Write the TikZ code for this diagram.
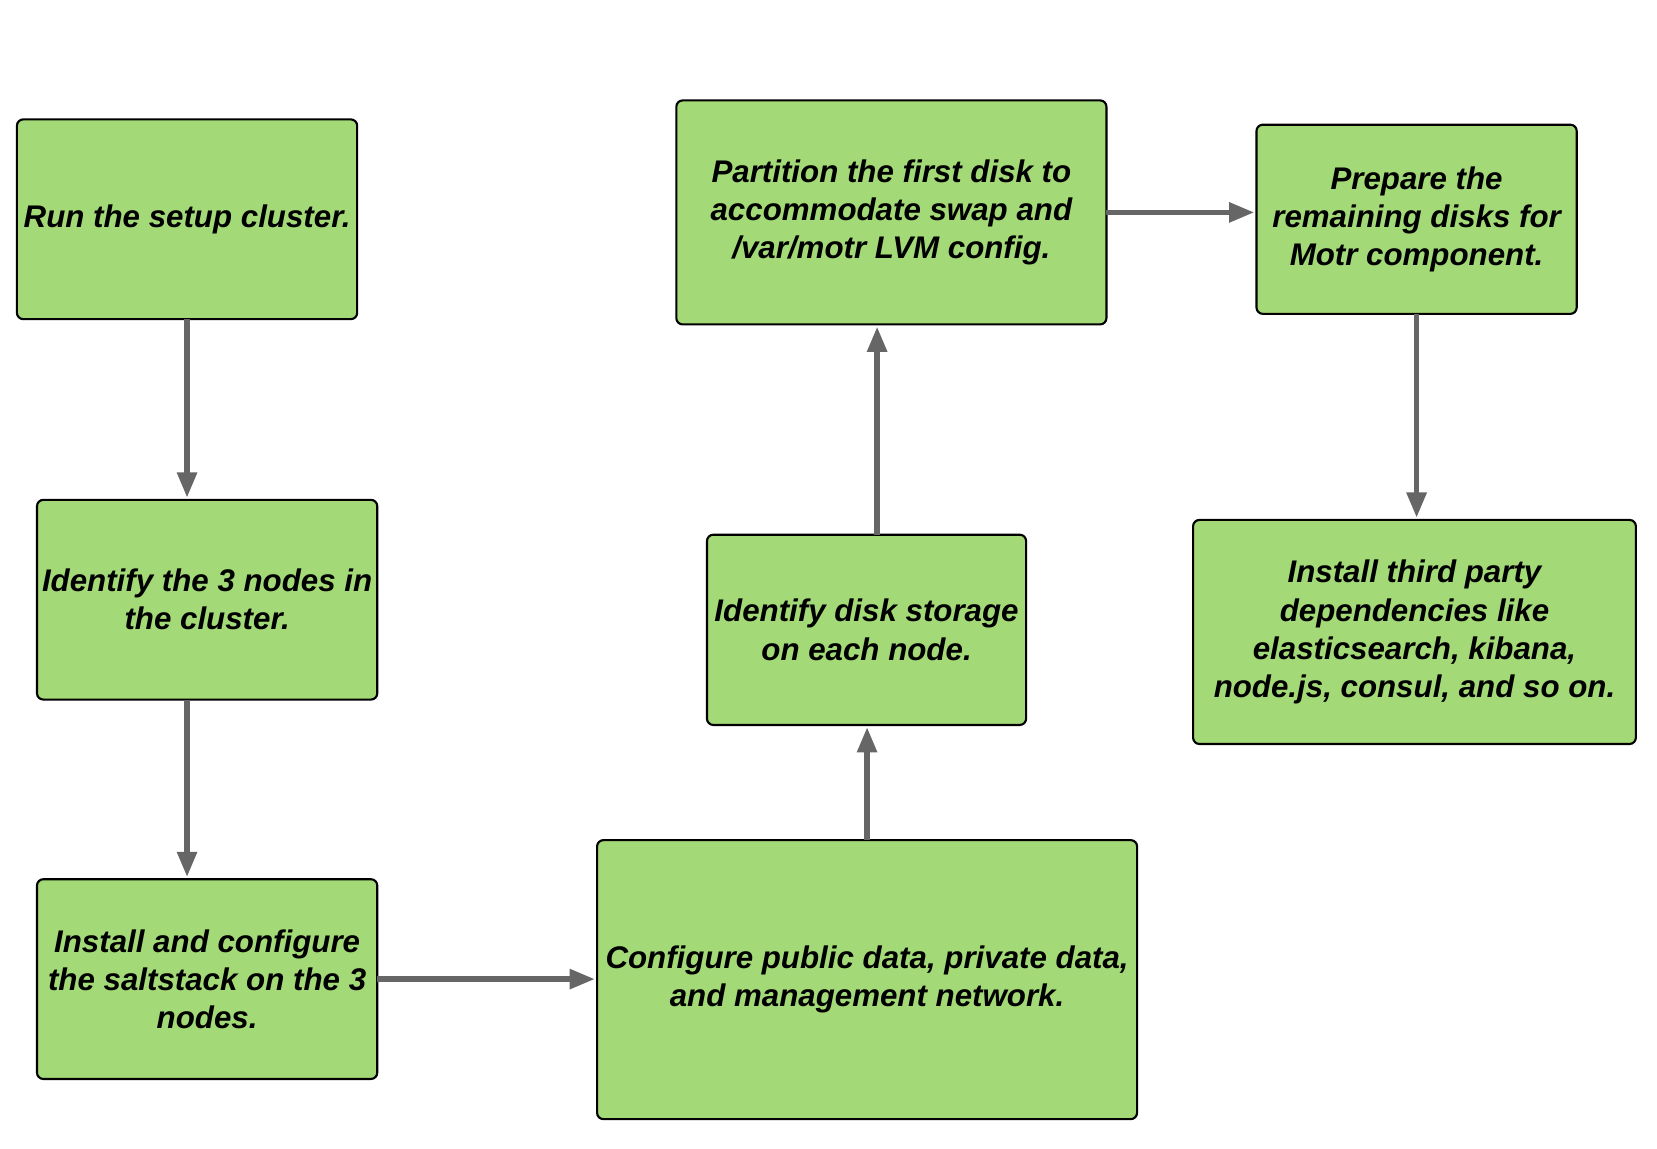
\documentclass[tikz,border=0pt]{standalone}
\usepackage{fontspec}
\setmainfont{Liberation Sans}
\usetikzlibrary{arrows.meta}
\definecolor{boxgreen}{RGB}{163,217,119}
\definecolor{arrgray}{RGB}{102,102,102}
\tikzset{
  stepbox/.style={draw=black, line width=1pt, fill=boxgreen, rounded corners=3pt,
    inner sep=0pt, outer sep=0pt, align=center,
    font=\fontsize{14.8}{18}\selectfont\bfseries\itshape},
  arr/.style={draw=arrgray, line width=2.7pt, -{Triangle[length=12pt,width=9pt]}, shorten >=1pt}
}
\begin{document}
\begin{tikzpicture}[x=0.5pt,y=-0.5pt]
\useasboundingbox (0,0) rectangle (1568,1087);
\node[stepbox, minimum width=161pt, minimum height=94.5pt] (n1) at (177,207.5) {Run the setup cluster.};
\node[stepbox, minimum width=161pt, minimum height=94.5pt] (n2) at (196,567.5) {Identify the 3 nodes in\\the cluster.};
\node[stepbox, minimum width=161pt, minimum height=94.5pt] (n3) at (196,926.5) {Install and configure\\the saltstack on the 3\\nodes.};
\node[stepbox, minimum width=255.5pt, minimum height=132pt] (n4) at (820.5,927) {Configure public data, private data,\\and management network.};
\node[stepbox, minimum width=151pt, minimum height=90pt] (n5) at (820,596) {Identify disk storage\\on each node.};
\node[stepbox, minimum width=203.5pt, minimum height=106pt] (n6) at (843.5,201) {Partition the first disk to\\accommodate swap and\\/var/motr LVM config.};
\node[stepbox, minimum width=151.5pt, minimum height=89.5pt] (n7) at (1340.5,207.5) {Prepare the\\remaining disks for\\Motr component.};
\node[stepbox, minimum width=209.5pt, minimum height=106pt] (n8) at (1338.5,598) {Install third party\\dependencies like\\elasticsearch, kibana,\\node.js, consul, and so on.};
\draw[arr] (n1.south) -- (n1.south |- n2.north);
\draw[arr] (n1.south |- n2.south) -- (n1.south |- n3.north);
\draw[arr] (n3.east) -- (n3.east -| n4.west);
\draw[arr] (n4.north) -- (n4.north |- n5.south);
\draw[arr] ([xshift=5pt]n5.north) -- ([xshift=5pt]n5.north |- n6.south);
\draw[arr] (n6.east) -- (n6.east -| n7.west);
\draw[arr] (n7.south) -- (n7.south |- n8.north);
\end{tikzpicture}
\end{document}
